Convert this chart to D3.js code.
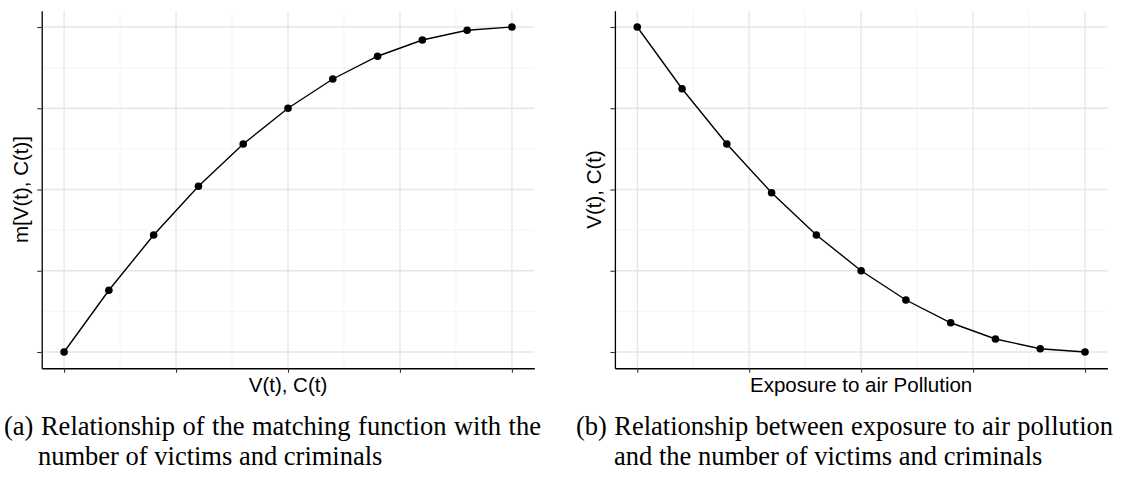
<!DOCTYPE html>
<html>
<head>
<meta charset="utf-8">
<script src="https://cdn.jsdelivr.net/npm/d3@7"></script>
<style>
  html, body { margin: 0; padding: 0; background: #fff; }
  svg { display: block; }
</style>
</head>
<body>
<svg id="chart" width="1121" height="477"></svg>
<script>
// ---- data ----
const xValues = [0, 0.1, 0.2, 0.3, 0.4, 0.5, 0.6, 0.7, 0.8, 0.9, 1.0];
const matchingValues = [0, 0.19, 0.36, 0.51, 0.64, 0.75, 0.84, 0.91, 0.96, 0.99, 1.0];
const exposureValues = [1.0, 0.81, 0.64, 0.49, 0.36, 0.25, 0.16, 0.09, 0.04, 0.01, 0];
const majorTicks = [0, 0.25, 0.5, 0.75, 1];
const minorTicks = [0.125, 0.375, 0.625, 0.875];
const xTitles = ["V(t), C(t)", "Exposure to air Pollution"];
const yTitles = ["m[V(t), C(t)]", "V(t), C(t)"];
const captionLine1 = ["(a) Relationship of the matching function with the", "(b) Relationship between exposure to air pollution"];
const captionLine2 = ["number of victims and criminals", "and the number of victims and criminals"];

const svg = d3.select("#chart");
const panels = [
  { left: 41.7, right: 534.3, values: matchingValues },
  { left: 614.9, right: 1107.4, values: exposureValues }
];
const plotTop = 10.75, plotBottom = 368.25;

panels.forEach((p, i) => {
  const x = d3.scaleLinear().domain([-0.05, 1.05]).range([p.left, p.right]);
  const y = d3.scaleLinear().domain([-0.05, 1.05]).range([plotBottom, plotTop]);
  const g = svg.append("g");

  // minor grid
  g.selectAll(".vminor").data(minorTicks).join("line")
    .attr("x1", d => x(d)).attr("x2", d => x(d)).attr("y1", plotTop).attr("y2", plotBottom)
    .attr("stroke", "#f2f2f2").attr("stroke-width", 0.8);
  g.selectAll(".hminor").data(minorTicks).join("line")
    .attr("y1", d => y(d)).attr("y2", d => y(d)).attr("x1", p.left).attr("x2", p.right)
    .attr("stroke", "#f2f2f2").attr("stroke-width", 0.8);
  // major grid
  g.selectAll(".vmajor").data(majorTicks).join("line")
    .attr("x1", d => x(d)).attr("x2", d => x(d)).attr("y1", plotTop).attr("y2", plotBottom)
    .attr("stroke", "#e6e6e6").attr("stroke-width", 1.3);
  g.selectAll(".hmajor").data(majorTicks).join("line")
    .attr("y1", d => y(d)).attr("y2", d => y(d)).attr("x1", p.left).attr("x2", p.right)
    .attr("stroke", "#e6e6e6").attr("stroke-width", 1.3);

  // axes
  const xAxis = g.append("g").attr("transform", `translate(0,${plotBottom})`)
    .call(d3.axisBottom(x).tickValues(majorTicks).tickFormat("").tickSizeInner(4.5).tickSizeOuter(0));
  const yAxis = g.append("g").attr("transform", `translate(${p.left},0)`)
    .call(d3.axisLeft(y).tickValues(majorTicks).tickFormat("").tickSizeInner(4.5).tickSizeOuter(0));
  [xAxis, yAxis].forEach(a => {
    a.select(".domain").attr("stroke", "#000").attr("stroke-width", 1.3);
    a.selectAll(".tick line").attr("stroke", "#333").attr("stroke-width", 1.1);
  });

  // line + points
  const data = xValues.map((v, k) => [v, p.values[k]]);
  g.append("path").datum(data)
    .attr("d", d3.line().x(d => x(d[0])).y(d => y(d[1])))
    .attr("fill", "none").attr("stroke", "#000").attr("stroke-width", 1.4);
  g.selectAll(".pt").data(data).join("circle")
    .attr("cx", d => x(d[0])).attr("cy", d => y(d[1])).attr("r", 3.8).attr("fill", "#000");

  // axis titles
  g.append("text").attr("x", (p.left + p.right) / 2).attr("y", 392)
    .attr("text-anchor", "middle").attr("font-family", "Liberation Sans, Arial, sans-serif")
    .attr("font-size", 20.5).attr("fill", "#000").text(xTitles[i]);
  g.append("text").attr("transform", `translate(${p.left - 13.5},${(plotTop + plotBottom) / 2}) rotate(-90)`)
    .attr("text-anchor", "middle").attr("font-family", "Liberation Sans, Arial, sans-serif")
    .attr("font-size", 20.5).attr("fill", "#000").text(yTitles[i]);
});

// captions
const capStarts = [4, 576];
const capIndent = [38, 614];
const capWidth = 537;
captionLine1.forEach((t, i) => {
  const txt = svg.append("text").attr("x", capStarts[i]).attr("y", 435)
    .attr("font-family", "Liberation Serif, Times New Roman, serif")
    .attr("font-size", 26.5).attr("fill", "#000").text(t);
  const natural = txt.node().getComputedTextLength();
  const spaces = (t.match(/ /g) || []).length;
  if (natural < capWidth && spaces > 0) txt.attr("word-spacing", (capWidth - natural) / spaces);
  svg.append("text").attr("x", capIndent[i]).attr("y", 465)
    .attr("font-family", "Liberation Serif, Times New Roman, serif")
    .attr("font-size", 26.5).attr("fill", "#000").text(captionLine2[i]);
});
</script>
</body>
</html>
